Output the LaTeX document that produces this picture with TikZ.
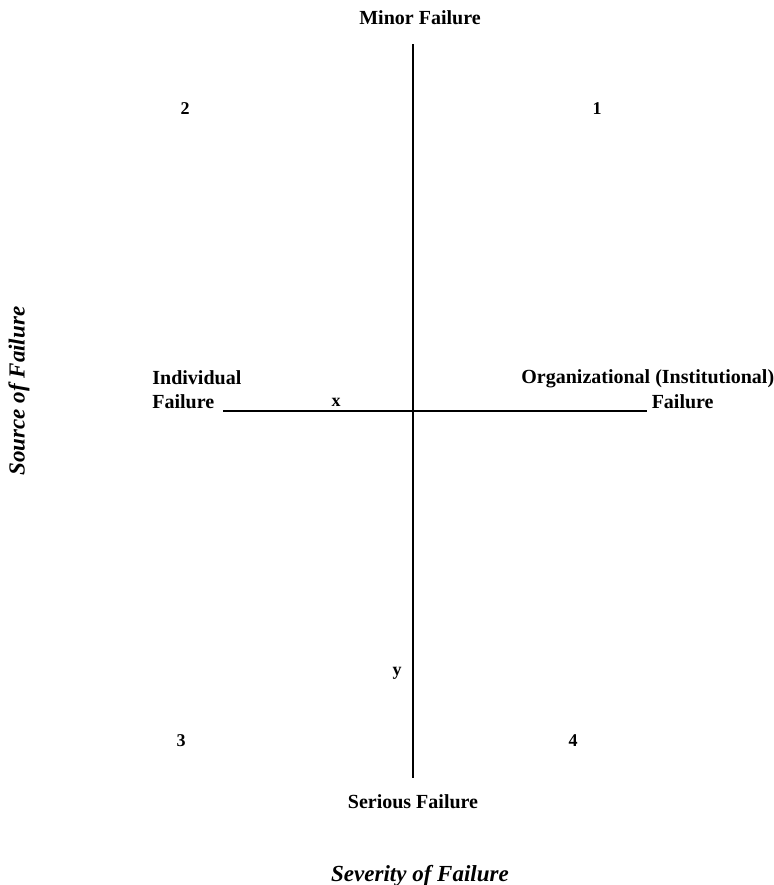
\documentclass[tikz,border=0pt]{standalone}
\usepackage{fontspec}
\setmainfont{Liberation Serif}
\usepackage{tikz}
\usetikzlibrary{positioning}

\begin{document}
\begin{tikzpicture}[x=0.5pt,y=-0.5pt,
  lbl/.style={font=\bfseries\fontsize{10}{12}\selectfont,inner sep=0pt},
  num/.style={font=\bfseries\fontsize{9}{11}\selectfont,inner sep=0pt},
  axtitle/.style={font=\bfseries\itshape\fontsize{11.5}{13}\selectfont,inner sep=0pt},
  axis/.style={line width=0.8pt}]
\useasboundingbox (0,0) rectangle (773,885);
% axes
\coordinate (top) at (413,44);
\coordinate (bottom) at (413,778);
\coordinate (left) at (223,411);
\coordinate (right) at (647,411);
\draw[axis] (top) -- (bottom);
\draw[axis] (left) -- (right);
% end labels
\node[lbl] (minor) at (420,18) {Minor Failure};
\node[lbl] (serious) at (413,802) {Serious Failure};
\node[lbl,align=left,anchor=west] (indiv) at (152,390) {Individual\\Failure};
\node[lbl,anchor=west] (orgA) at (521,379) {Organizational (Institutional)};
\node[lbl,anchor=east] (orgB) at (714,402) {Failure};
% quadrants
\foreach \n/\px/\py in {1/597/109,2/185/109,3/181/741,4/573/741}
  \node[num] (q\n) at (\px,\py) {\n};
\node[num] (xmark) at (336,402) {x};
\node[num] (ymark) at (397,673) {y};
% axis titles
\node[axtitle] (severity) at (420,876) {Severity of Failure};
\node[axtitle,rotate=90] (source) at (19,391) {Source of Failure};
\end{tikzpicture}
\end{document}
